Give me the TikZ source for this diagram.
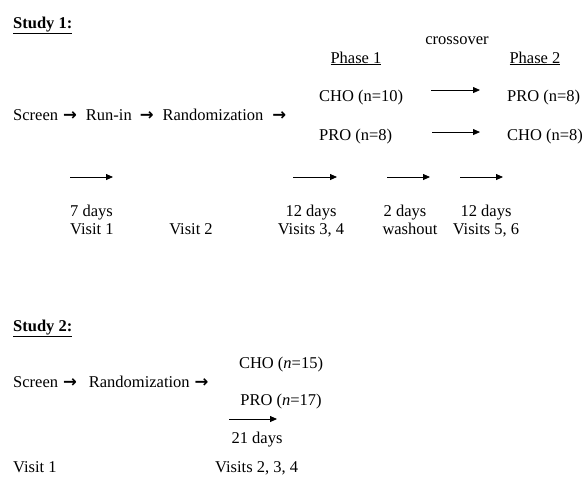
\documentclass[tikz,border=0pt]{standalone}
\usepackage{fontspec}
\setmainfont{Liberation Serif}
\newfontfamily\arrowfont{DejaVu Sans}
\usetikzlibrary{arrows.meta,positioning}
\newcommand{\stepto}{{\arrowfont\bfseries →}}

\begin{document}
\begin{tikzpicture}[x=1pt,y=-1pt,
    txt/.style={inner sep=0pt,font=\fontsize{16.5}{19}\selectfont},
    tl/.style={-{Triangle[length=7pt,width=6pt]},line width=0.8pt}]
  \useasboundingbox (0,0) rectangle (588,483);
  % study 1
  \node[txt,anchor=base west] (sOne) at (13,28) {\textbf{\underline{Study 1:}}};
  \node[txt,anchor=base] (cross) at (457,44) {crossover};
  \node[txt,anchor=base] (phOne) at (356,63) {\underline{Phase 1}};
  \node[txt,anchor=base] (phTwo) at (535,63) {\underline{Phase 2}};
  \node[txt,anchor=base west] (flowA) at (13,120)
    {Screen\hspace{5pt}\stepto\hspace{9pt}Run-in\hspace{8pt}\stepto\hspace{9pt}Randomization\hspace{9pt}\stepto};
  \node[txt,anchor=base west] (choA) at (319,101) {CHO (n=10)};
  \node[txt,anchor=base west] (proB) at (507,101) {PRO (n=8)};
  \node[txt,anchor=base west] (proA) at (319,140) {PRO (n=8)};
  \node[txt,anchor=base west] (choB) at (507,140) {CHO (n=8)};
  \draw[tl,shorten <=28pt,shorten >=27pt] ([yshift=7pt]choA.east) -- ([yshift=7pt]proB.west);
  \draw[tl,shorten <=40pt,shorten >=27pt] ([yshift=4pt]proA.east) -- ([yshift=4pt]choB.west);
  % timeline
  \coordinate (aS) at (70,177);  \coordinate (aE) at (113,177);
  \coordinate (bS) at (293,177); \coordinate (bE) at (337,177);
  \coordinate (cS) at (387,177); \coordinate (cE) at (430,177);
  \coordinate (dS) at (460,177); \coordinate (dE) at (503,177);
  \foreach \s/\e in {aS/aE,bS/bE,cS/cE,dS/dE}
    \draw[tl] (\s) -- (\e);
  \node[txt,anchor=base west] (dA) at (70,216) {7 days};
  \node[txt,anchor=base west] (vA) at (70,234) {Visit 1};
  \node[txt,anchor=base] (vB) at (191,234) {Visit 2};
  \node[txt,anchor=base] (dB) at (311,216) {12 days};
  \node[txt,anchor=base] (vC) at (311,234) {Visits 3, 4};
  \node[txt,anchor=base] (dC) at (405,216) {2 days};
  \node[txt,anchor=base] (wash) at (410,234) {washout};
  \node[txt,anchor=base] (dD) at (486,216) {12 days};
  \node[txt,anchor=base] (vD) at (486,234) {Visits 5, 6};
  % study 2
  \node[txt,anchor=base west] (sTwo) at (13,331) {\textbf{\underline{Study 2:}}};
  \node[txt,anchor=base west] (flowB) at (13,387)
    {Screen\hspace{5pt}\stepto\hspace{12pt}Randomization\hspace{5pt}\stepto};
  \node[txt,anchor=base] (choC) at (281,368) {CHO (\textit{n}=15)};
  \node[txt,anchor=base] (proC) at (281,405) {PRO (\textit{n}=17)};
  \coordinate (eS) at (229,419); \coordinate (eE) at (277,419);
  \draw[tl] (eS) -- (eE);
  \node[txt,anchor=base] (dEl) at (257,443) {21 days};
  \node[txt,anchor=base west] (vE) at (13,472) {Visit 1};
  \node[txt,anchor=base west] (vF) at (215,472) {Visits 2, 3, 4};
\end{tikzpicture}
\end{document}
